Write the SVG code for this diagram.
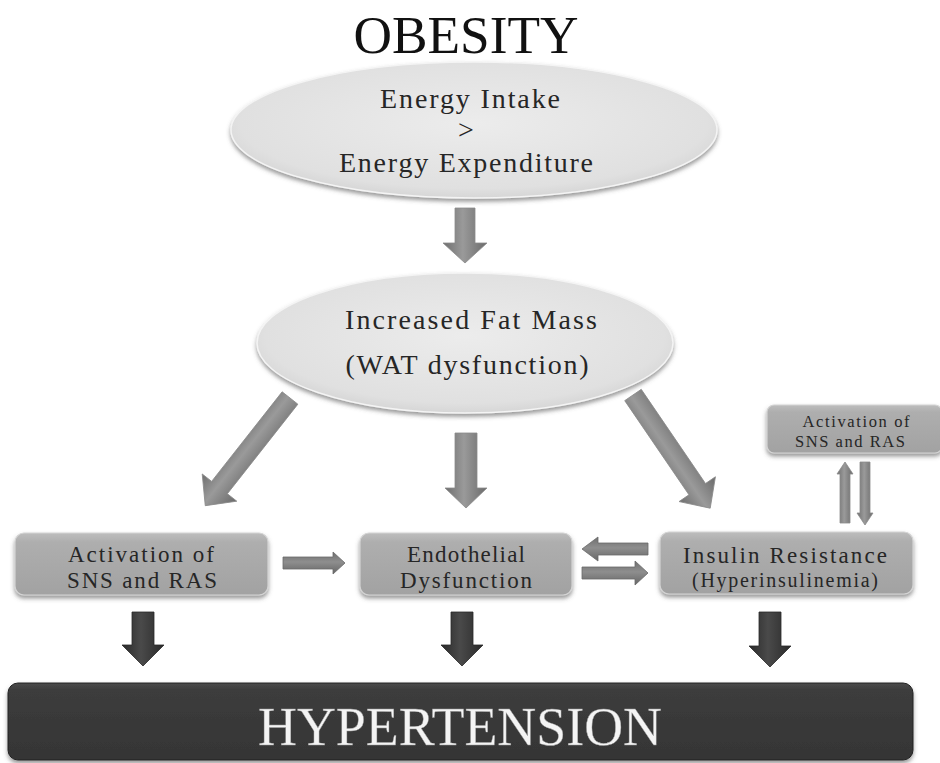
<svg xmlns="http://www.w3.org/2000/svg" width="940" height="763" viewBox="0 0 940 763">
<style>
  text { font-family: "Liberation Serif", "DejaVu Serif", serif; text-anchor: middle; fill: #262626; }
  text.title { fill: #111; }
  text.hyp { fill: #f4f4f4; stroke: #9a9a9a; stroke-width: 0.4; }
  .ell { fill: url(#gEll); stroke: #f4f4f4; stroke-width: 1.5; filter: url(#shadow); }
  .box { fill: url(#gBox); stroke: #d4d4d4; stroke-width: 1.2; filter: url(#shadow); }
  .arr { fill: url(#gArr); stroke: #8a8a8a; stroke-width: 0.8; }
  .darr { fill: url(#gDark); stroke: #2a2a2a; stroke-width: 0.8; }
  .harr { fill: url(#gArrV); stroke: #6a6a6a; stroke-width: 0.8; }
</style>
<defs>
  <filter id="shadow" x="-10%" y="-10%" width="120%" height="140%">
    <feDropShadow dx="0" dy="3" stdDeviation="2" flood-color="#555" flood-opacity="0.6"/>
  </filter>
  <radialGradient id="gEll" cx="50%" cy="45%" r="60%">
    <stop offset="0" stop-color="#ececec"/>
    <stop offset="0.8" stop-color="#e0e0e0"/>
    <stop offset="1" stop-color="#cfcfcf"/>
  </radialGradient>
  <linearGradient id="gBox" x1="0" y1="0" x2="0" y2="1">
    <stop offset="0" stop-color="#bdbdbd"/>
    <stop offset="0.15" stop-color="#aeaeae"/>
    <stop offset="1" stop-color="#a2a2a2"/>
  </linearGradient>
  <linearGradient id="gArr" x1="0" y1="0" x2="1" y2="0">
    <stop offset="0" stop-color="#6e6e6e"/>
    <stop offset="0.45" stop-color="#9a9a9a"/>
    <stop offset="1" stop-color="#6a6a6a"/>
  </linearGradient>
  <linearGradient id="gArrV" x1="0" y1="0" x2="0" y2="1">
    <stop offset="0" stop-color="#6e6e6e"/>
    <stop offset="0.45" stop-color="#8e8e8e"/>
    <stop offset="1" stop-color="#666"/>
  </linearGradient>
  <linearGradient id="gDark" x1="0" y1="0" x2="1" y2="0">
    <stop offset="0" stop-color="#2a2a2a"/>
    <stop offset="0.45" stop-color="#4a4a4a"/>
    <stop offset="1" stop-color="#2a2a2a"/>
  </linearGradient>
  <linearGradient id="gBar" x1="0" y1="0" x2="0" y2="1">
    <stop offset="0" stop-color="#4a4a4a"/>
    <stop offset="0.1" stop-color="#3c3c3c"/>
    <stop offset="1" stop-color="#353535"/>
  </linearGradient>
</defs>
<rect width="940" height="763" fill="#ffffff"/>

<g id="title">
  <text class="title" x="466" y="53" font-size="52" textLength="225" lengthAdjust="spacingAndGlyphs">OBESITY</text>
</g>

<g id="energy-balance">
  <ellipse class="ell" cx="474" cy="130" rx="243" ry="68"/>
  <text x="470" y="108" font-size="28" textLength="180" lengthAdjust="spacing">Energy Intake</text>
  <text x="466" y="139" font-size="28">&gt;</text>
  <text x="466" y="172" font-size="28" textLength="254" lengthAdjust="spacing">Energy Expenditure</text>
</g>

<g id="fat-mass">
  <ellipse class="ell" cx="465" cy="343" rx="208" ry="70"/>
  <text x="471" y="329" font-size="28" textLength="252" lengthAdjust="spacing">Increased Fat Mass</text>
  <text x="467" y="374" font-size="28" textLength="243" lengthAdjust="spacing">(WAT dysfunction)</text>
</g>

<g id="sns-ras">
  <rect class="box" x="15" y="533" width="253" height="62" rx="9"/>
  <text x="141" y="562" font-size="23" textLength="146" lengthAdjust="spacing">Activation of</text>
  <text x="142" y="588" font-size="23" textLength="150" lengthAdjust="spacing">SNS and RAS</text>
</g>

<g id="endothelial">
  <rect class="box" x="360" y="533" width="212" height="62" rx="9"/>
  <text x="466" y="562" font-size="23" textLength="118" lengthAdjust="spacing">Endothelial</text>
  <text x="466" y="588" font-size="23" textLength="132" lengthAdjust="spacing">Dysfunction</text>
</g>

<g id="insulin">
  <rect class="box" x="660" y="532" width="253" height="62" rx="9"/>
  <text x="785" y="563" font-size="23" textLength="204" lengthAdjust="spacing">Insulin Resistance</text>
  <text x="785" y="587" font-size="20" textLength="186" lengthAdjust="spacing">(Hyperinsulinemia)</text>
</g>

<g id="sns-ras-2">
  <rect class="box" x="767" y="405" width="175" height="48" rx="7"/>
  <text x="856" y="427" font-size="16.5" textLength="107" lengthAdjust="spacing">Activation of</text>
  <text x="850" y="447" font-size="16.5" textLength="110" lengthAdjust="spacing">SNS and RAS</text>
</g>

<g id="hypertension">
  <rect x="8" y="683" width="905" height="77" rx="10" fill="url(#gBar)" stroke="#222" stroke-width="1" filter="url(#shadow)"/>
  <text class="hyp" x="460" y="745" font-size="54" textLength="404" lengthAdjust="spacingAndGlyphs">HYPERTENSION</text>
</g>

<g id="connectors">
  <polygon class="arr" points="455,208 475,208 475,243 487,243 465,263 443,243 455,243"/>
  <g transform="translate(290,398) rotate(38.2)">
    <polygon class="arr" points="-10,0 10,0 10,114 22,114 0,137 -22,114 -10,114"/>
  </g>
  <polygon class="arr" points="455,433 477,433 477,488 487,488 466,508 445,488 455,488"/>
  <g transform="translate(633,395) rotate(-34.3)">
    <polygon class="arr" points="-10,0 10,0 10,114 22,114 0,137 -22,114 -10,114"/>
  </g>
  <polygon class="harr" points="283,557 333,557 333,552 345,563 333,574 333,569 283,569"/>
  <polygon class="harr" points="648,543 598,543 598,537 582,549 598,561 598,555 648,555"/>
  <polygon class="harr" points="582,567 635,567 635,561 648,573 635,585 635,579 582,579"/>
  <polygon class="arr" points="840,523 850,523 850,474 853,474 845,462 837,474 840,474"/>
  <polygon class="arr" points="860,462 870,462 870,513 873,513 865,525 857,513 860,513"/>
  <polygon class="darr" points="132,612 154,612 154,645 164,645 143,666 122,645 132,645"/>
  <polygon class="darr" points="451,612 473,612 473,645 483,645 462,666 441,645 451,645"/>
  <polygon class="darr" points="759,612 781,612 781,646 791,646 770,667 749,646 759,646"/>
</g>
</svg>
